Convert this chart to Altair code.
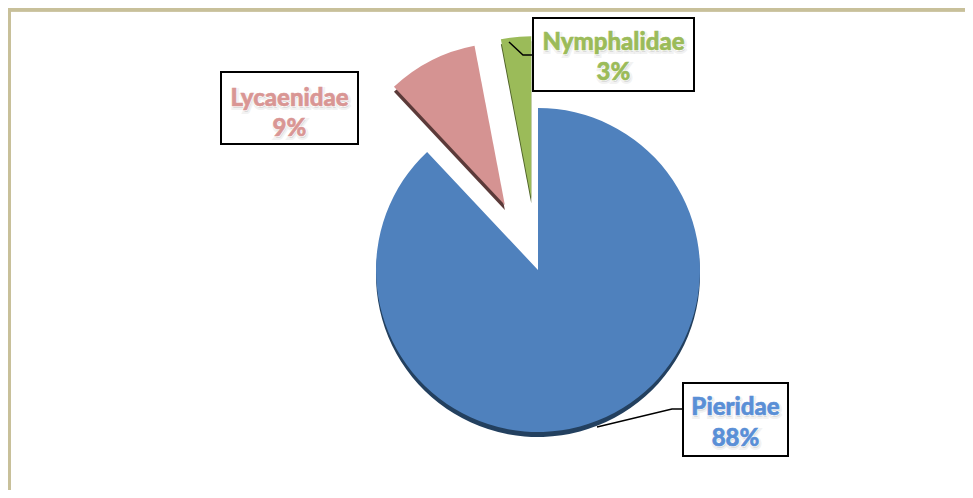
import math
import altair as alt
import pandas as pd

# ---------------- data ----------------
families = ["Pieridae", "Lycaenidae", "Nymphalidae"]
percent = [88, 9, 3]

# ---------------- styling / layout ----------------
W, H = 957, 482
CX, CY, R = 530, 262, 162          # pie centre and radius (px)
DEPTH = 5                          # 3-D thickness (px)
explode = {"Pieridae": 0, "Lycaenidae": 73, "Nymphalidae": 72}
slice_colors = ["#4F81BD", "#D59392", "#9BBB59"]
side_colors = ["#23405F", "#5B3A39", "#4F6228"]
text_colors = {"Pieridae": "#5A8FD6", "Lycaenidae": "#D99694", "Nymphalidae": "#9BBB59"}
FONT = "Lato"

label_layout = {
    # box x1, x2, y1, y2, text centre x, baseline 1, baseline 2
    "Lycaenidae": dict(bx1=213, bx2=350, by1=64, by2=136, tx=281.5, t1=98, t2=128),
    "Nymphalidae": dict(bx1=525, bx2=686, by1=10, by2=83, tx=605.5, t1=42, t2=72),
    "Pieridae": dict(bx1=675, bx2=780, by1=375, by2=448, tx=727.5, t1=407, t2=438),
}
leaders = {
    "Nymphalidae": [(501, 34), (515, 47), (525, 47)],
    "Pieridae": [(589, 419), (664, 401), (675, 401)],
}

# ---------------- tables ----------------
slices = pd.DataFrame({
    "family": families,
    "value": percent,
    "order": list(range(len(families))),
    "explode": [explode[f] for f in families],
})

boxes = pd.DataFrame([dict(family=f, **label_layout[f]) for f in families])

text_rows = []
for f, p in zip(families, percent):
    L = label_layout[f]
    text_rows.append(dict(family=f, text=f, x=L["tx"], y=L["t1"]))
    text_rows.append(dict(family=f, text=f"{p}%", x=L["tx"], y=L["t2"]))
texts = pd.DataFrame(text_rows)

leader_rows = []
for f, pts in leaders.items():
    for i, (px, py) in enumerate(pts):
        leader_rows.append(dict(family=f, i=i, px=px, py=py))
leader_df = pd.DataFrame(leader_rows)

# ---------------- pie ----------------
pie_base = alt.Chart(slices).transform_window(
    cum="sum(value)", sort=[alt.SortField("order")], frame=[None, 0]
).transform_calculate(
    start="datum.cum - datum.value",
    end="datum.cum",
    mid="(datum.cum - datum.value / 2) / 100 * 2 * PI",
).transform_calculate(
    cx=f"{CX} + datum.explode * sin(datum.mid)",
    cy=f"{CY} - datum.explode * cos(datum.mid)",
    cy_side=f"{CY} + {DEPTH} - datum.explode * cos(datum.mid)",
)

theta = alt.Theta("start:Q", scale=alt.Scale(domain=[0, 100], range=[0, 2 * math.pi]), stack=None)

pie_side = pie_base.mark_arc(radius=R).encode(
    theta=theta,
    theta2="end:Q",
    x=alt.X("cx:Q", scale=None, axis=None),
    y=alt.Y("cy_side:Q", scale=None, axis=None),
    color=alt.Color("family:N", scale=alt.Scale(domain=families, range=side_colors), legend=None),
)

pie_top = pie_base.mark_arc(radius=R).encode(
    theta=theta,
    theta2="end:Q",
    x=alt.X("cx:Q", scale=None, axis=None),
    y=alt.Y("cy:Q", scale=None, axis=None),
    color=alt.Color("family:N", scale=alt.Scale(domain=families, range=slice_colors), legend=None),
)

# ---------------- labels ----------------
leader_layer = alt.Chart(leader_df).mark_line(color="black", strokeWidth=1.5).encode(
    x=alt.X("px:Q", scale=None, axis=None),
    y=alt.Y("py:Q", scale=None, axis=None),
    detail="family:N",
    order="i:Q",
)

box_layer = alt.Chart(boxes).mark_rect(fill="white", stroke="black", strokeWidth=2).encode(
    x=alt.X("bx1:Q", scale=None, axis=None),
    x2="bx2:Q",
    y=alt.Y("by1:Q", scale=None, axis=None),
    y2="by2:Q",
)

text_base = alt.Chart(texts).encode(
    x=alt.X("x:Q", scale=None, axis=None),
    y=alt.Y("y:Q", scale=None, axis=None),
    text="text:N",
)
tkw = dict(font=FONT, fontSize=24, fontWeight=900, align="center", baseline="alphabetic")

text_shadow = text_base.mark_text(
    dx=1, dy=1.5, color="#9a9a9a", opacity=0.35, stroke="#9a9a9a", strokeWidth=4, strokeOpacity=0.35, **tkw
)
text_glow = text_base.mark_text(color="white", stroke="white", strokeWidth=2, **tkw)
text_fill = text_base.mark_text(strokeWidth=0.6, **tkw).encode(
    color=alt.Color(
        "family:N",
        scale=alt.Scale(domain=families, range=[text_colors[f] for f in families]),
        legend=None,
    ),
    stroke=alt.Stroke(
        "family:N",
        scale=alt.Scale(domain=families, range=[text_colors[f] for f in families]),
        legend=None,
    ),
)

# ---------------- frame ----------------
frame_top = alt.Chart(slices).mark_rule(color="#C8C09A", strokeWidth=4).encode(
    x=alt.value(0), x2=alt.value(W), y=alt.value(1.5)
)
frame_left = alt.Chart(slices).mark_rule(color="#C8C09A", strokeWidth=4).encode(
    x=alt.value(1), y=alt.value(0), y2=alt.value(H)
)

chart = alt.layer(
    frame_top, frame_left,
    pie_side, pie_top,
    leader_layer, box_layer,
    text_shadow, text_glow, text_fill,
).resolve_scale(color="independent", stroke="independent").properties(
    width=W, height=H, padding=0,
    autosize=alt.AutoSizeParams(type="none"),
    background="white",
).configure_view(stroke=None)

chart.save("out.html", embed_options={"renderer": "svg", "actions": False})
